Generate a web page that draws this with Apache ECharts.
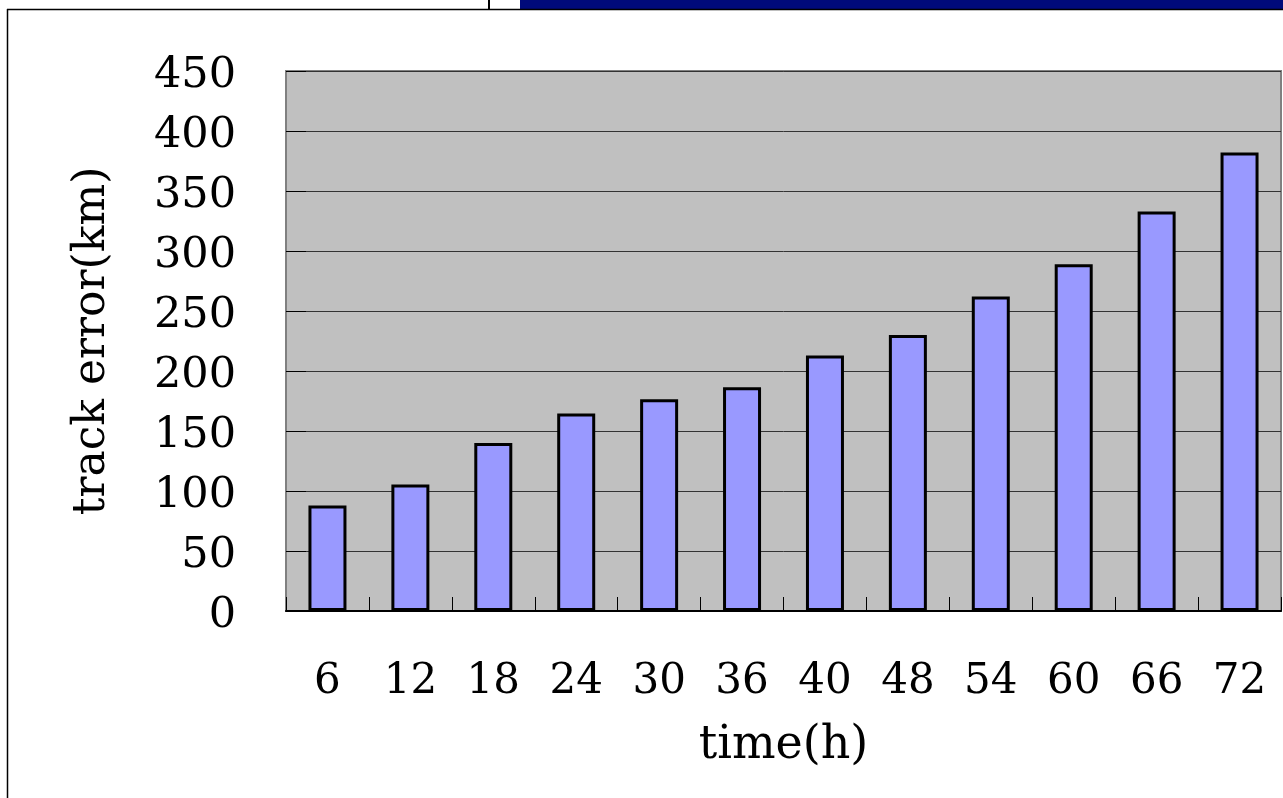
<!DOCTYPE html>
<html>
<head>
<meta charset="utf-8">
<script src="https://cdn.jsdelivr.net/npm/echarts@6/dist/echarts.min.js"></script>
<style>
html,body{margin:0;padding:0;background:#fff;}
#chart{width:1283px;height:798px;}
</style>
</head>
<body>
<div id="chart"></div>
<script>
const categories = ['6','12','18','24','30','36','40','48','54','60','66','72'];
const trackError = [88, 105.5, 140, 164.5, 176.5, 186.5, 213, 230, 262, 289, 333, 382];
const yMin = 0, yMax = 450, yStep = 50;

const FONT = '"DejaVu Serif", "Liberation Serif", serif';
const chart = echarts.init(document.getElementById('chart'));
chart.setOption({
  animation: false,
  backgroundColor: '#ffffff',
  graphic: [
    { type: 'rect', shape: { x: 520, y: 0, width: 763, height: 9 }, style: { fill: '#000a7a' }, z: 0 },
    { type: 'line', shape: { x1: 489, y1: 0, x2: 489, y2: 9 }, style: { stroke: '#000', lineWidth: 2 } },
    { type: 'line', shape: { x1: 7, y1: 9.5, x2: 1283, y2: 9.5 }, style: { stroke: '#000', lineWidth: 1.5 } },
    { type: 'line', shape: { x1: 7.5, y1: 9, x2: 7.5, y2: 798 }, style: { stroke: '#000', lineWidth: 1.5 } }
  ],
  grid: {
    left: 286, top: 71, right: 2, bottom: 187,
    show: true, backgroundColor: '#c0c0c0', borderColor: '#808080', borderWidth: 2
  },
  xAxis: {
    type: 'category',
    data: categories,
    name: 'time(h)',
    nameLocation: 'middle',
    nameGap: 112,
    nameTextStyle: { fontFamily: FONT, fontSize: 46, color: '#000' },
    axisLine: { show: true, lineStyle: { color: '#000', width: 2 } },
    axisTick: { show: true, inside: true, length: 14, lineStyle: { color: '#000', width: 1 } },
    axisLabel: { fontFamily: FONT, fontSize: 42, color: '#000', margin: 50 },
    splitLine: { show: false }
  },
  yAxis: {
    type: 'value',
    min: yMin, max: yMax, interval: yStep,
    name: 'track error(km)',
    nameLocation: 'middle',
    nameGap: 171,
    nameTextStyle: { fontFamily: FONT, fontSize: 44, color: '#000' },
    axisLine: { show: true, lineStyle: { color: '#808080', width: 2 } },
    axisTick: { show: true, inside: true, length: 20, lineStyle: { color: '#000', width: 1 } },
    axisLabel: { fontFamily: FONT, fontSize: 43, color: '#000', margin: 50, verticalAlign: 'top', lineHeight: 10 },
    splitLine: { show: true, lineStyle: { color: '#333', width: 1 } }
  },
  series: [{
    type: 'bar',
    data: trackError,
    barWidth: 38,
    itemStyle: { color: '#9999ff', borderColor: '#000', borderWidth: 3 }
  }]
});
</script>
</body>
</html>
